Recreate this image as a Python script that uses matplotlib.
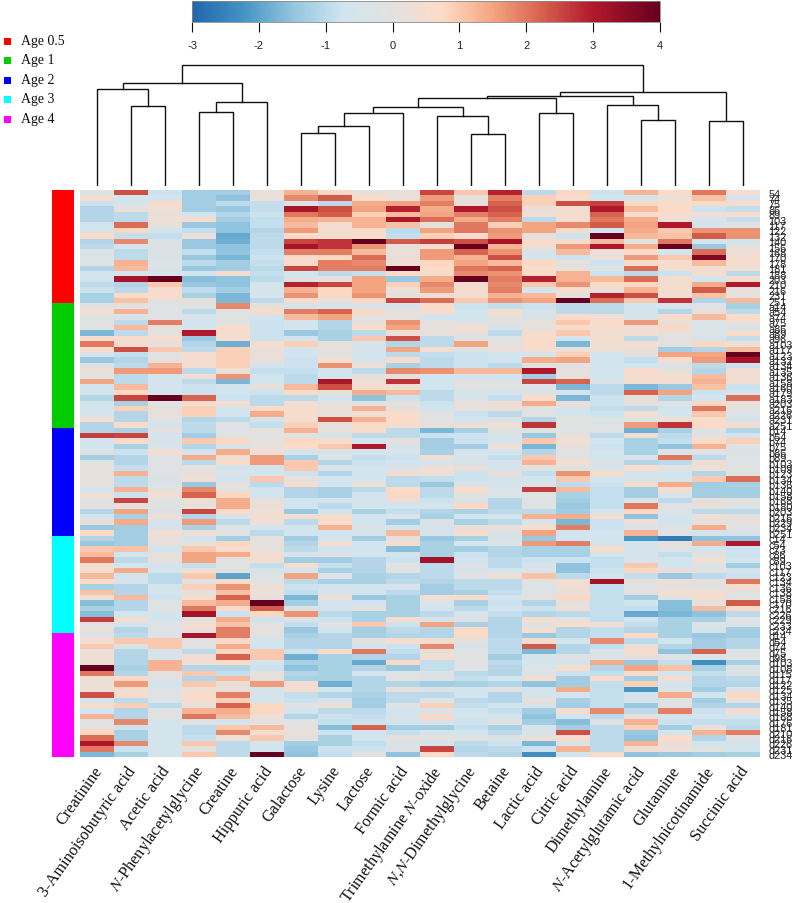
import numpy as np
import matplotlib
matplotlib.use("Agg")
import matplotlib.pyplot as plt
from matplotlib.colors import LinearSegmentedColormap, Normalize
from matplotlib.patches import Rectangle
from matplotlib.cm import ScalarMappable

plt.rcParams['mathtext.fontset'] = 'stix'
plt.rcParams['axes.unicode_minus'] = False

metabolites = ["Creatinine", "3-Aminoisobutyric acid", "Acetic acid", r"$\mathit{N}$-Phenylacetylglycine",
               "Creatine", "Hippuric acid", "Galactose", "Lysine", "Lactose", "Formic acid",
               r"Trimethylamine $\mathit{N}$-oxide", r"$\mathit{N}$,$\mathit{N}$-Dimethylglycine", "Betaine",
               "Lactic acid", "Citric acid", "Dimethylamine", r"$\mathit{N}$-Acetylglutamic acid",
               "Glutamine", "1-Methylnicotinamide", "Succinic acid"]

groups = ["Age 0.5", "Age 1", "Age 2", "Age 3", "Age 4"]
group_colors = ["#ff0000", "#00cc00", "#0000ff", "#00ffff", "#ff00ff"]

labels_05 = "54 74 75 86 89 103 117 122 132 140 156 168 170 178 181 188 203 210 216 231 251".split()
labels_1 = "a14 a54 a74 a75 a86 a89 a96 a103 a117 a123 a132 a134 a135 a136 a158 a160 a179 a183 a203 a216 a226 a231 a251".split()
labels_2 = "b14 b54 b74 b75 b86 b89 b103 b109 b123 b134 b136 b140 b158 b168 b180 b203 b216 b229 b234 b251".split()
labels_3 = "c14 c54 c73 c86 c89 c103 c117 c123 c134 c136 c138 c158 c170 c216 c226 c229 c233 c234".split()
labels_4 = "d14 d54 d74 d75 d98 d103 d108 d115 d117 d122 d125 d134 d135 d140 d158 d168 d176 d181 d210 d216 d226 d231 d234".split()

age05 = [
 [-.4,2.4,-.8,-1.3,-1.3,.2,1.3,.8,.1,.2, 2.5,1.0,2.9,-1.0,.8,-.8,1.3,.7,2.0,.5],
 [.5,-.6,-.7,-1.3,-1.5,.2,1.8,2.3,.7,.2, 1.6,.1,1.9,.9,.5,-.6,-.6,.3,1.1,-.5],
 [-.8,-.6,.7,-1.3,-1.0,-.9,-.3,-1.0,1.4,1.5, 1.9,.2,2.2,.9,2.4,2.6,.8,.6,.6,.6],
 [-1.1,.1,.3,-1.3,-1.4,-.9,3.1,2.4,1.5,2.9, 1.4,3.0,2.4,.2,.5,3.0,1.2,.7,-.8,-.9],
 [-1.1,-1.0,.2,-.7,-1.1,-.8,2.0,2.3,.9,1.2, 1.5,1.9,2.2,.4,.5,2.2,.6,.6,.3,.6],
 [-1.1,-1.0,.3,.6,-1.3,-.9,1.4,1.3,1.3,3.0, 2.1,1.4,1.9,-1.0,.5,2.0,1.4,.3,-.5,-.9],
 [-.7,2.1,.1,-1.4,-1.5,-.9,1.2,.5,1.3,1.1, .1,2.0,.9,1.5,1.8,2.3,1.5,3.0,-.5,-.1],
 [-.5,.8,-.7,-.9,-1.5,-1.1,1.6,.5,.7,-1.0, 1.5,2.0,1.7,1.5,.7,-.7,1.4,1.0,1.7,1.7],
 [.7,-.9,-.9,.2,-1.9,-1.0,.7,.5,.6,-.9, .9,.6,1.6,.1,-.8,4.0,1.2,1.1,2.3,1.7],
 [-1.1,1.8,-.3,-1.4,-1.8,-1.0,2.5,2.7,4.0,2.3, 2.6,2.4,3.1,.6,.6,1.2,-.1,2.0,-.7,-.7],
 [-1.0,-.5,-.3,-1.4,-1.5,-1.0,3.1,2.7,1.7,.1, .5,4.0,1.3,.4,1.6,3.0,1.4,4.0,-1.4,.1],
 [-.3,-1.0,-.3,-.9,-1.5,-.9,1.9,1.9,1.2,.2, 1.6,2.2,1.7,-.5,1.2,.2,.6,-.6,2.1,.3],
 [-.2,-1.0,-.3,-1.4,-1.7,-.8,.7,.8,2.1,.2, 1.6,1.3,2.4,-.5,-.8,.2,1.6,1.0,3.6,.5],
 [-.2,1.3,-.4,-1.0,-1.3,-.9,.6,1.9,1.8,.4, .8,1.5,1.2,.8,.1,-.8,.6,.6,1.2,.5],
 [-1.1,1.2,-.3,-1.4,-1.3,-1.0,2.5,1.9,1.9,4.0, .7,2.0,2.2,.6,.1,-.2,2.1,.4,.4,.4],
 [-.7,-.7,-.5,-.7,.5,-.9,-.7,-1.0,-.9,.7, .6,1.8,1.7,.7,1.3,-.8,-1.0,-.8,.5,-1.0],
 [-.7,3.1,4.0,-1.6,-1.5,-1.0,-.3,.1,1.5,-1.4, 1.4,4.0,1.9,2.9,1.3,1.2,2.1,.5,-.7,.5],
 [-1.0,-1.1,1.0,-1.4,-1.5,-.6,2.9,2.5,1.5,.9, 1.8,.5,1.8,1.0,1.7,.7,.8,.5,1.4,3.0],
 [-.8,-1.0,.5,-1.0,-1.3,-.5,1.3,.8,1.5,.3, 1.6,.5,1.9,-.5,.5,.2,1.3,.5,2.3,.1],
 [-1.2,.7,.7,-1.2,-1.7,-.6,1.7,.8,1.7,.1, .4,.5,1.3,1.2,.1,2.9,2.4,.4,1.1,.1],
 [-1.2,1.1,.1,.1,-1.7,-1.0,.6,.1,.8,2.5, 2.1,1.0,1.7,1.5,4.0,2.1,1.0,2.7,-1.1,1.2],
]
age1 = [
 [0,0,-.2,-.1,1.8,.1,-.5,-.5,-.5,-.5, .6,-.8,-.9,-.8,-1.0,-1.0,-.7,-.5,-.2,-1.2],
 [.4,1.3,-.2,-1.0,-.1,.7,1.9,2.2,.8,.1, .6,-.7,.5,-.5,-1.0,-1.0,-.7,-1.1,.2,-1.0],
 [-.1,-.4,-.2,-.5,-.1,-.7,1.2,1.5,0,.1, -.7,-.7,.1,-.3,.7,.4,-.5,.6,1.2,.7],
 [-.1,-1.0,1.9,-.7,-.1,-.8,-.6,-1.1,.1,1.7, .1,-.3,0,.1,1.0,.7,1.6,.2,-.4,.3],
 [-.1,1.2,.1,-.6,.6,-.8,-.6,-1.1,.7,1.5, .1,.6,-.5,.1,.6,.5,.4,.8,-.4,-.6],
 [-1.7,-1.0,.1,3.0,.5,-.8,-1.4,-1.2,-1.0,.3, .1,.1,-1.0,.5,1.0,.4,.4,.1,-.4,.6],
 [.5,.6,.5,-1.4,.5,-.8,-.7,-1.2,1.0,2.4, -1.0,-.2,-.1,.6,-.7,.5,-1.0,0,-.5,-.9],
 [2.0,.4,.1,-1.1,-1.8,.5,.9,.1,-.5,-1.1, -1.0,1.5,0,.7,-1.7,.4,.4,0,.8,.3],
 [.6,2.4,1.0,-1.0,.9,.2,-.6,.1,-.5,1.5, .5,-.1,.2,.4,.3,.3,.2,-1.3,-1.1,1.2],
 [-.5,-.9,-.1,.5,.9,.2,-.7,0,-.6,-1.0, -.9,-.8,-.7,-.5,.9,-.7,.1,1.5,1.5,4.0],
 [-1.4,-1.1,.1,.5,.9,.2,-.8,.5,-.6,.5, -1.0,-.8,-.7,1.4,1.5,-.7,-.9,.5,1.6,3.1],
 [-.1,-1.0,1.3,.4,.9,-.7,-.8,1.7,.3,-1.2, -1.0,-.8,-1.0,0,-.1,-.7,-.7,-.3,-1.0,-.8],
 [.2,1.6,1.6,-1.0,.3,-.9,-.9,-.6,-1.0,1.8, 1.7,1.2,1.2,3.0,.1,-.7,.6,.1,-1.1,.4],
 [-.1,-1.0,-.5,.4,1.7,-.7,-1.0,-.6,.1,.1, -.7,-.6,-.7,-1.3,.1,-.7,.5,.5,1.2,.4],
 [1.5,-1.0,-.7,-1.0,-1.7,-.7,-1.0,3.1,.3,2.7, -.7,-.1,-.2,2.5,2.2,-.3,.5,.4,1.3,.4],
 [-.7,1.2,-.6,-.8,-.7,.1,1.2,2.4,.5,.4, -.7,-.1,-.1,-.2,-1.7,-1.0,-1.7,-1.4,1.1,-.8],
 [-.7,.7,-.6,-.8,-.7,-.8,.6,.2,1.4,1.2, -1.0,-.6,-.5,-.3,-.5,-1.0,2.2,1.5,-.8,-.7],
 [-1.1,2.5,4.0,2.2,-.8,-1.0,-1.0,-.7,-1.5,-.8, -1.0,-.5,-.9,.6,-1.7,-.8,.1,-1.1,-.7,2.1],
 [-.6,-1.2,0,.5,.5,-1.0,.4,.1,-.1,.1, -.8,.2,.4,1.4,.2,-.8,.1,-.2,.8,.1],
 [-.6,.9,0,.9,-.7,.7,.5,.2,1.3,.1, -.7,.1,.2,0,-.5,-.9,-1.0,-.7,2.0,.1],
 [-.6,-1.1,.2,.9,-.7,1.4,.5,.1,.5,.6, -.1,-.8,-1.0,-.1,-.7,-.8,.4,-.6,1.0,-.4],
 [.4,-1.1,-.2,-1.1,-1.0,-.5,.5,2.4,1.3,.7, -.1,-.7,-.3,-1.1,.1,-.2,-.1,.3,.6,-.5],
 [-1.1,.6,-.5,-1.0,-.2,-.9,.9,.1,.7,.5, .1,.2,.3,2.7,-.1,-.2,1.6,2.7,.7,.4],
]
age2 = [
 [-1.1,-1.2,.1,-1.0,-.2,.1,1.3,.1,.6,-1.0, -1.7,-1.2,-.1,-.1,-.2,-.2,-1.8,-1.2,-.1,-1.1],
 [2.6,2.5,-.7,-1.3,-.1,-.1,-.1,-.5,-1.0,-1.0, -.8,-.8,-.5,-1.4,.2,-1.0,.3,-1.0,0,-.6],
 [-.7,.6,-.5,1.0,.8,0,.8,.6,-.7,.1, -1.3,-.8,-.5,1.0,.3,-.7,-1.2,-.9,.7,.9],
 [-.7,-1.2,-.4,-1.1,-.5,.2,.7,1.0,3.0,-.5, -1.3,-1.3,.3,-1.7,.2,-.8,-1.2,-1.5,1.3,-.2],
 [-.3,-.8,.4,-.6,1.4,.3,-.5,-.3,-.7,-.5, -1.2,-.5,-.6,-1.1,-.1,-.7,-1.2,-.4,-.2,-.3],
 [-1.3,-1.1,-.2,1.4,.4,1.6,-1.2,-.4,-.9,-.8, .4,-.5,-.9,1.0,-.1,-.7,-.5,2.0,-1.0,-.2],
 [-.1,-1.1,-.2,-1.0,.7,1.6,1.0,-1.1,-.8,-.6, -.6,-.5,-.5,1.3,.5,-.3,-1.1,-1.0,.4,-.2],
 [.1,-.9,-.2,.1,-.7,-.7,1.0,-.4,-.7,-.3, .3,.2,-.6,0,-.1,-.5,.6,0,.3,-.1],
 [.1,1.3,-.2,.2,-.4,-.7,-.8,-1.1,-.7,.5, .3,-.8,.2,-.9,1.7,.7,-.5,-.7,-1.1,-.1],
 [.1,-1.0,-.3,.3,-.7,1.0,.1,-.7,-.5,-1.0, -.9,-.8,-.5,-.7,1.0,-.6,-.5,-.5,1.0,2.1],
 [.1,-1.0,-.4,-1.4,.1,-1.0,.5,-.7,.2,-1.0, -1.4,-.3,-.5,-.3,-1.0,-.8,.6,1.4,-1.3,-1.2],
 [-.7,1.3,.1,1.8,-.1,-.7,-1.1,-1.2,-1.0,.7, -1.0,.7,-.4,2.6,1.2,-.9,-1.3,.5,-1.3,-1.3],
 [.3,-.8,.4,2.2,.8,-.7,-1.1,-1.2,-.7,.8, -1.0,-.1,-.4,-.1,-1.2,-.9,-1.3,-.4,-1.3,-1.3],
 [0,2.5,-.1,.4,1.4,.2,-.7,-.5,-.5,.2, -.8,-.3,-1.1,-.2,-1.3,-.9,-.3,-1.0,.2,.1],
 [0,.1,-.1,.1,1.4,.2,-.7,-1.0,-.6,-.7, -.6,.8,-1.1,-.1,-1.4,-.9,2.0,-.2,.1,-.3],
 [-1.1,1.5,-.3,2.5,.7,.3,-1.4,-.7,-1.2,-.9, -1.1,-1.2,-1.0,-1.0,-1.3,-.6,.8,-.2,-1.0,-1.0],
 [-.7,-1.2,.4,-1.1,-.5,.5,.4,.6,-.7,-.4, -1.2,-.7,-.7,1.3,1.4,.6,-1.5,-.7,.3,.1],
 [.2,1.4,-.5,1.6,-1.0,.3,-1.0,.6,-.7,-1.3, -.3,-1.2,-1.0,-.4,-1.7,-.8,.3,-.7,.1,.1],
 [-1.4,-1.3,-.5,-1.2,-.2,-.7,-.6,1.3,-.3,-.7, -.5,.2,.2,.5,1.9,-.8,-.4,-.1,1.4,-.1],
 [.7,-1.3,.4,.3,-.2,-1.0,-.7,-.7,-.7,1.2, -.5,.5,-.3,1.5,-.7,-.7,1.3,-.2,-.5,-.5],
]
age3 = [
 [-1.1,-1.3,.2,-.7,-1.3,.1,-1.3,-.7,-1.3,.1, -1.4,-1.2,-.3,-1.4,-.7,-.6,-2.2,-2.6,-1.5,-1.5],
 [-1.4,-1.3,.1,.1,.8,.1,-1.1,.5,-.7,.5, -1.2,-.6,-.4,1.6,1.9,-.6,-.6,.1,1.4,3.0],
 [1.0,1.1,-.6,1.0,.6,.1,-1.0,-.7,-.7,-1.6, -1.2,-1.3,-1.1,-1.2,-1.2,.6,-.6,-.1,-.7,-.8],
 [1.2,-.7,.1,1.5,1.4,.5,-.5,-.2,-.7,-.7, -1.2,-.8,-1.1,-1.2,-1.2,-.6,-.6,-.9,-.1,-.8],
 [2.0,-1.0,.1,1.5,0,.4,-1.3,-1.3,-1.1,-.8, 3.2,-.7,-1.0,-.8,-.8,-.9,-.5,-.7,.3,-.6],
 [.5,-.7,-.6,-.9,-.1,-.9,.5,-.9,-1.1,-.1, -1.0,-.2,-1.0,-.5,-1.5,-.9,1.0,-.7,-.2,-1.3],
 [.5,1.4,-.7,.3,-.1,-.5,-.7,-1.2,-1.1,0, -1.0,-.5,-.6,-.4,-1.5,-.8,.8,.2,-.1,-.6],
 [1.2,-.7,-1.0,1.0,-2.0,-.1,1.5,-.3,-1.2,-1.1, -1.0,-.2,.3,1.1,-1.0,-.7,-.9,-1.4,-1.0,-.8],
 [.7,-.5,-1.0,0,.6,-.1,-1.0,-1.2,-1.2,-1.0, -1.1,-1.0,-1.0,0,.4,3.2,.1,.3,.1,2.0],
 [-1.2,-1.1,-.6,.9,1.7,.3,-.8,-.6,-.7,-.5, -1.3,-1.0,-1.0,-.4,.4,-.9,-.1,.1,-.1,.5],
 [1.1,-1.1,-.6,.1,1.1,.3,-.9,-.6,-.7,-1.0, -1.3,-1.2,-.9,-.2,.2,-.9,0,.5,.5,-.1],
 [.3,1.2,-.8,.6,2.2,.1,-1.7,.4,-1.4,-1.2, .5,.6,-.7,.1,.8,-.9,-1.3,-.1,.5,0],
 [-1.6,-1.1,-.1,1.2,1.4,4.0,-1.3,-.7,-.7,-1.2, -.4,-1.2,-.8,-1.1,.1,-.9,-.7,-1.6,.1,2.3],
 [-1.2,-1.1,-.1,2.0,.6,2.3,-.3,-.5,0,-1.2, -.7,-1.0,-.7,-.8,.3,-.9,-.9,-1.6,1.2,.7],
 [-1.6,-.7,-.6,3.2,-.8,.8,1.7,-1.0,-1.2,-1.2, -1.0,-.5,-.9,-1.1,-1.0,-.9,-1.9,-1.7,-1.5,-1.0],
 [2.6,.5,-.7,-.1,1.4,-.8,-.2,-.8,-1.2,.6, -.5,-.2,-1.1,.5,-.1,-.9,-.6,-1.2,-1.2,-.2],
 [0,-.6,-.2,.5,1.1,0,-.9,-.1,1.0,-.8, 1.5,-1.2,-1.1,-.1,.6,.4,-.9,-1.2,-.4,-.3],
 [.1,-1.1,-.2,.2,1.9,.1,-1.4,-.7,-1.3,-1.0, -1.1,.7,-1.1,.4,-1.1,-.9,-1.1,-1.2,-.5,-1.3],
]
age4 = [
 [-.2,-1.0,-.2,3.1,1.9,-.1,-1.2,-1.1,-1.2,-1.1, -1.1,.7,-1.1,-1.4,-1.1,-.9,.7,-1.2,-1.4,-1.3],
 [.5,1.0,1.0,0,.7,-.6,-1.1,-1.1,0,.5, .5,0,-1.0,.5,-.7,1.8,-1.0,-.7,-1.3,-1.1],
 [1.0,-.3,1.0,-.1,1.4,-.7,-1.1,-1.1,-.7,-.8, 1.8,-.3,-1.0,2.3,-1.1,-.9,.2,-1.1,-1.3,-1.1],
 [.3,-1.1,-.5,-1.0,.8,1.0,-.8,.6,2.0,-.9, .1,-.2,-1.0,-1.7,-1.1,-.3,.7,-1.5,2.2,-.1],
 [.3,-1.1,-.5,.4,2.2,1.0,-1.8,-1.2,-1.1,-1.1, .5,-.1,-1.3,-.5,-.1,-.3,.1,-.2,-.4,-.2],
 [.3,-1.1,1.3,.4,.7,-.6,-1.2,-1.2,-1.9,.7, -.9,-.1,-1.0,-.6,-.6,1.4,-1.4,-.9,-2.3,-1.2],
 [4.0,-1.2,1.3,-1.1,-1.1,-.8,-1.5,-1.2,-1.1,-1.4, -.9,-.2,-1.1,-.4,.6,-1.1,1.5,1.1,-1.2,-.3],
 [2.0,-1.1,.1,1.0,-.9,.1,-1.1,-1.2,-.7,-.2, -.3,-1.0,-1.1,-.2,-.8,-.9,.6,-.7,-.9,-.3],
 [.3,.7,-.1,-1.1,1.2,.1,-1.2,-1.2,-1.1,-.1, -.3,-.9,-.7,.4,-1.3,.7,-1.3,.5,-1.1,-1.0],
 [.3,1.6,-.7,1.0,.2,1.6,.4,-1.8,-1.1,-1.1, -1.3,-1.2,-1.1,-1.5,-1.3,-.9,.9,-.7,-1.1,-1.1],
 [.3,.5,-.2,.3,.2,-.5,.5,-.7,-1.1,.1, -.3,-.7,-.1,-.6,1.4,-.9,-2.2,-.3,-1.3,-.3],
 [2.4,.5,-.1,.7,1.9,-.5,-.9,-1.1,-1.2,-1.0, -1.0,-.7,-1.1,-.6,-.7,-.9,-.7,1.4,-.7,.8],
 [-.5,-1.0,-.4,.5,.9,-.7,-.8,-.5,-1.3,-1.0, -.2,-1.0,-1.1,.2,-1.2,-.9,-.4,-.2,-1.3,.1],
 [.6,.9,-1.0,.2,2.2,.8,-.2,.3,-1.3,-.2, .9,-.9,-.7,-.5,-1.3,-.9,-1.4,-.2,-1.1,-1.1],
 [-.7,-1.1,-.1,1.3,1.4,.8,-.6,-1.0,-1.0,-.7, -.3,-.7,-.9,-1.3,.5,1.8,-1.0,1.9,-.8,.5],
 [1.3,-1.1,-.1,2.0,1.2,.3,-1.1,-.8,-.9,-.5, .8,-.7,-.7,-1.5,-.7,-1.0,.1,-.5,-.7,-.6],
 [-.1,1.8,-.6,-.2,-.6,0,-.1,-.9,-.8,-.6, -.3,-.8,-.1,-1.3,-1.6,-.2,1.3,-.8,-.9,-.9],
 [.2,-.8,-.6,-1.0,1.0,1.2,.1,-1.6,2.2,-1.3, -1.3,-.9,-1.2,-.5,-1.3,-1.0,.9,-1.3,.2,-1.0],
 [.8,-1.2,-.6,-1.0,1.8,.5,.1,-.8,-.7,-.9, -.5,-.7,-1.0,-.5,2.4,-1.0,-1.4,-.7,1.3,1.9],
 [2.1,-1.2,-.6,-.9,.3,1.0,0,-1.2,-.7,.1, -.1,-.1,-.3,.2,.5,-1.0,-1.5,.7,-1.1,-.2],
 [3.0,1.8,-.6,1.0,-1.0,-.6,-1.3,-1.2,-.9,-.3, -.5,-1.0,-.8,-1.7,-.3,-1.0,1.3,.2,-.7,-.6],
 [2.0,-.8,-.6,.1,-1.0,-.6,-1.4,-.8,-.8,-.3, 2.5,-1.1,-1.0,-.8,1.3,-1.0,.4,.3,-.1,-.6],
 [-1.7,-1.2,-.6,1.0,-1.0,4.0,-1.5,-.9,-.1,-1.5, .7,-1.0,-1.1,-2.3,-.7,.6,-1.5,-1.4,-1.3,-1.2],
]

# dendrogram merges: (left child, right child, height); leaves are 0-19, merged nodes 20+
merges = [
 (1, 2, 80), (3, 4, 74), (0, 20, 97.5), (21, 5, 84.5), (22, 23, 103),
 (6, 7, 53), (25, 8, 60), (26, 9, 73.5), (11, 12, 52), (10, 28, 70),
 (27, 29, 79), (13, 14, 73), (30, 31, 88.5), (16, 17, 66.5), (15, 33, 81),
 (32, 34, 90.5), (18, 19, 65.5), (35, 36, 94), (24, 37, 121),
]

cbar_ticks = [-3, -2, -1, 0, 1, 2, 3, 4]
cmap = LinearSegmentedColormap.from_list("rb", [
    (0/7, "#2166ac"), (.75/7, "#4393c3"), (1.5/7, "#92c5de"), (2.25/7, "#d1e5f0"),
    (3/7, "#e3e1e0"), (3.75/7, "#fddbc7"), (4.5/7, "#f4a582"), (5.25/7, "#d6604d"),
    (6/7, "#b2182b"), (7/7, "#67001f")])
norm = Normalize(-3, 4)

W, H = 793, 904
fig = plt.figure(figsize=(W/100, H/100), dpi=100)

def axpx(x0, y0, x1, y1):
    return fig.add_axes([x0/W, 1-y1/H, (x1-x0)/W, (y1-y0)/H])

all_groups = [age05, age1, age2, age3, age4]
all_labels = [labels_05, labels_1, labels_2, labels_3, labels_4]
matrix = np.array(sum(all_groups, []), dtype=float)
row_labels = sum(all_labels, [])
nrow, ncol = matrix.shape

# heat map
ax = axpx(80, 191, 760, 758)
ax.imshow(matrix, cmap=cmap, norm=norm, aspect='auto', interpolation='nearest')
ax.set_xticks(range(ncol))
ax.set_xticklabels([])
ax.yaxis.tick_right()
ax.set_yticks(range(nrow))
ax.set_yticklabels(row_labels, fontsize=7.8, family='Liberation Sans', color='#222222')
ax.tick_params(axis='both', length=0, pad=6)
for s in ax.spines.values():
    s.set_visible(False)

# column labels
for i, name in enumerate(metabolites):
    ax.annotate(name, xy=(i, nrow-0.5), xytext=(1.5, -7.5), textcoords='offset points',
                rotation=54.5, rotation_mode='anchor', ha='right', va='center',
                family='Liberation Serif', fontsize=11.7, color='#111111',
                annotation_clip=False)

# group side bar
axb = axpx(52, 191, 74, 758)
start = 0
for g, (rows, c) in enumerate(zip(all_groups, group_colors)):
    axb.add_patch(Rectangle((0, start), 1, len(rows), color=c, lw=0))
    start += len(rows)
axb.set_xlim(0, 1)
axb.set_ylim(nrow, 0)
axb.axis('off')

# dendrogram
axd = axpx(80, 60, 760, 187)
axd.set_xlim(-.5, ncol-.5)
axd.set_ylim(0, 127)
pos = {i: (float(i), 0.0) for i in range(ncol)}
for k, (a, b, h) in enumerate(merges):
    xa, ya = pos[a]
    xb, yb = pos[b]
    axd.plot([xa, xa, xb, xb], [ya, h, h, yb], color='#111111', lw=1.0, solid_joinstyle='miter')
    pos[ncol+k] = ((xa+xb)/2, h)
axd.axis('off')

# colour key
axc = axpx(192, 2, 660, 23)
sm = ScalarMappable(norm=norm, cmap=cmap)
cb = fig.colorbar(sm, cax=axc, orientation='horizontal', ticks=cbar_ticks)
cb.outline.set_edgecolor('#888888')
cb.outline.set_linewidth(.6)
axc.tick_params(axis='x', length=7, width=.8, pad=6, labelsize=8, color='#111111', labelcolor='#222222')
for t in axc.get_xticklabels():
    t.set_family('Liberation Sans')

# legend
axl = fig.add_axes([0, 0, 1, 1])
axl.set_xlim(0, W)
axl.set_ylim(H, 0)
axl.axis('off')
axl.patch.set_alpha(0)
for i, (g, c) in enumerate(zip(groups, group_colors)):
    y = 42 + 19.6*i
    axl.add_patch(Rectangle((3.5, y-3.5), 7, 7, color=c, lw=0))
    axl.text(21, y-1, g, family='Liberation Serif', fontsize=10, va='center', ha='left', color='#111111')

fig.savefig("out.png", dpi=100)
